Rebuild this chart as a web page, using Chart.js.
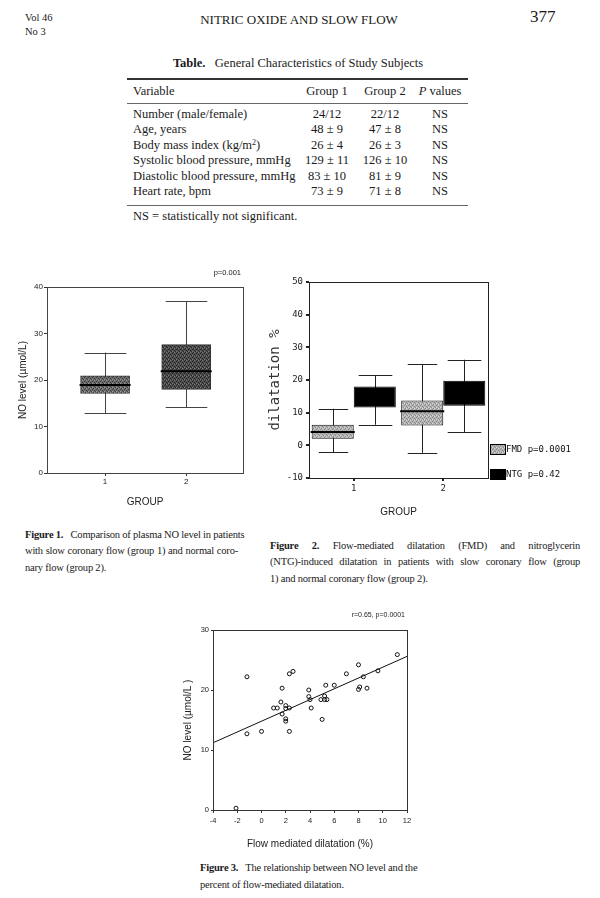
<!DOCTYPE html>
<html>
<head>
<meta charset="utf-8">
<script src="https://cdn.jsdelivr.net/npm/chart.js@4.4.0/dist/chart.umd.min.js"></script>
<style>
  body { margin: 0; width: 600px; height: 898px; position: relative; overflow: hidden; background: #fff;
         font-family: "Liberation Serif", "Times New Roman", serif; color: #1a1a1a; }
  .t { position: absolute; white-space: nowrap; line-height: 1; transform: translateY(-50%); }
  .c { transform: translate(-50%, -50%); }
  .rule { position: absolute; left: 127px; width: 341px; background: #333; }
  .cap { position: absolute; font-size: 10.5px; letter-spacing: -0.2px; line-height: 1; text-align: justify; text-align-last: justify; white-space: nowrap; }
  .cap.last { text-align-last: left; }
  canvas { position: absolute; }
  sup { font-size: 8px; vertical-align: 4px; }
</style>
</head>
<body>

<div class="t" style="left:25px;top:18px;font-size:10.5px">Vol 46</div>
<div class="t" style="left:25px;top:32px;font-size:10.5px">No 3</div>
<div class="t c" style="left:299px;top:19px;font-size:13px">NITRIC OXIDE AND SLOW FLOW</div>
<div class="t" style="left:530px;top:16px;font-size:17px">377</div>

<div class="t c" style="left:298px;top:63px;font-size:12.5px"><b>Table.</b>&nbsp;&nbsp; General Characteristics of Study Subjects</div>
<div class="rule" style="top:78px;height:2px"></div>
<div class="rule" style="top:103px;height:1px;background:#666"></div>
<div class="rule" style="top:205px;height:1px;background:#666"></div>
<div id="table"></div>
<div class="t" style="left:133px;top:216px;font-size:12.5px">NS = statistically not significant.</div>

<canvas id="fig1" width="260" height="250" style="left:0;top:265px"></canvas>
<canvas id="fig2" width="340" height="260" style="left:260px;top:265px"></canvas>
<canvas id="fig3" width="280" height="250" style="left:160px;top:605px"></canvas>

<div class="cap" style="left:25px;top:530px;width:213px"><b>Figure 1.</b>&nbsp;&nbsp; Comparison of plasma NO level in patients</div>
<div class="cap" style="left:25px;top:546px;width:213px">with slow coronary flow (group 1) and normal coro-</div>
<div class="cap last" style="left:25px;top:563px;width:213px">nary flow (group 2).</div>

<div class="cap" style="left:270px;top:541px;width:310px"><b>Figure 2.</b> Flow-mediated dilatation (FMD) and nitroglycerin</div>
<div class="cap" style="left:270px;top:557px;width:310px">(NTG)-induced dilatation in patients with slow coronary flow (group</div>
<div class="cap last" style="left:270px;top:574px;width:310px">1) and normal coronary flow (group 2).</div>

<div class="cap" style="left:200px;top:863px;width:214px"><b>Figure 3.</b>&nbsp;&nbsp; The relationship between NO level and the</div>
<div class="cap last" style="left:200px;top:880px;width:214px">percent of flow-mediated dilatation.</div>

<script>
// table
var tableVars = ["Number (male/female)", "Age, years", "Body mass index (kg/m<sup>2</sup>)",
  "Systolic blood pressure, mmHg", "Diastolic blood pressure, mmHg", "Heart rate, bpm"];
var tableG1 = ["24/12", "48 ± 9", "26 ± 4", "129 ± 11", "83 ± 10", "73 ± 9"];
var tableG2 = ["22/12", "47 ± 8", "26 ± 3", "126 ± 10", "81 ± 9", "71 ± 8"];
var tableP = ["NS", "NS", "NS", "NS", "NS", "NS"];

// figure 1: NO level by group
var noGroups = [1, 2];
var noLow = [12.9, 14.1];
var noQ1 = [17.1, 18.0];
var noMedian = [18.9, 21.9];
var noQ3 = [20.9, 27.6];
var noHigh = [25.9, 37.0];

// figure 2: FMD / NTG dilatation by group
var dilGroups = ["1", "2"];
var fmdLow = [-2.1, -2.3];
var fmdQ1 = [2.0, 6.1];
var fmdMedian = [4.1, 10.4];
var fmdQ3 = [6.3, 13.7];
var fmdHigh = [11.2, 24.9];
var ntgLow = [6.3, 4.0];
var ntgQ1 = [11.6, 12.1];
var ntgQ3 = [18.0, 19.8];
var ntgHigh = [21.4, 26.2];

// figure 3: NO level vs FMD
var fmdX = [-1.2, -1.2, -2.1, 0.0, 1.0, 1.3, 1.7, 1.6, 1.7, 2.0, 2.0, 2.0, 2.0, 2.3, 2.6, 2.3, 2.3,
  3.9, 3.9, 4.0, 4.1, 5.0, 4.9, 5.2, 5.2, 5.3, 5.4, 6.0, 7.0, 8.0, 8.1, 8.0, 8.4, 8.7, 9.6, 11.2];
var noY = [22.2, 12.7, 0.3, 13.1, 17.0, 17.0, 20.3, 18.0, 16.0, 17.4, 16.9, 15.2, 14.8, 22.7, 23.1, 17.0, 13.1,
  20.0, 18.9, 18.4, 17.0, 15.1, 18.4, 19.0, 18.4, 20.8, 18.4, 20.8, 22.7, 24.2, 20.5, 20.1, 22.2, 20.3, 23.2, 25.9];
var fitX = [-4, 12];
var fitY = [11.2, 25.6];

var tbl = document.getElementById("table");
function cell(html, x, y, center, size) {
  var d = document.createElement("div");
  d.className = center ? "t c" : "t";
  d.style.left = x + "px";
  d.style.top = y + "px";
  d.style.fontSize = (size || 12.5) + "px";
  d.innerHTML = html;
  tbl.appendChild(d);
}
cell("Variable", 133, 91);
cell("Group 1", 327, 91, true);
cell("Group 2", 385, 91, true);
cell("<i>P</i> values", 440, 91, true);
for (var i = 0; i < tableVars.length; i++) {
  var y = 114 + i * 15.4;
  cell(tableVars[i], 133, y);
  cell(tableG1[i], 327, y, true);
  cell(tableG2[i], 385, y, true);
  cell(tableP[i], 440, y, true);
}

Chart.defaults.font.family = "'Liberation Sans', Arial, sans-serif";
Chart.defaults.color = "#222";

function speckle(base, dark, light) {
  var c = document.createElement("canvas");
  c.width = c.height = 4;
  var g = c.getContext("2d");
  g.fillStyle = base; g.fillRect(0, 0, 4, 4);
  g.fillStyle = dark;
  g.fillRect(0, 0, 1, 1); g.fillRect(2, 1, 1, 1); g.fillRect(1, 3, 1, 1); g.fillRect(3, 2, 1, 1);
  g.fillStyle = light;
  g.fillRect(2, 3, 1, 1); g.fillRect(0, 2, 1, 1);
  return g.createPattern(c, "repeat");
}

// whiskers, caps and medians of the boxes, placed on the bar elements
var whiskers = {
  id: "whiskers",
  beforeDatasetsDraw: function (chart) { drawWhiskers(chart, false); },
  afterDatasetsDraw: function (chart) { drawWhiskers(chart, true); }
};
function drawWhiskers(chart, front) {
  var ctx = chart.ctx, ys = chart.scales.y;
  chart.data.datasets.forEach(function (ds, i) {
    if (!ds.lows) return;
    chart.getDatasetMeta(i).data.forEach(function (bar, j) {
      var x = Math.round(bar.x) + 0.5, w = bar.width;
      var lo = ys.getPixelForValue(ds.lows[j]), hi = ys.getPixelForValue(ds.highs[j]);
      ctx.save();
      ctx.strokeStyle = ds.whiskerColor;
      ctx.lineWidth = 1;
      ctx.beginPath();
      if (!front) {
        ctx.moveTo(x, lo); ctx.lineTo(x, hi);
      } else {
        var cw = w * ds.capRatio / 2;
        ctx.moveTo(x - cw, Math.round(lo) + 0.5); ctx.lineTo(x + cw, Math.round(lo) + 0.5);
        ctx.moveTo(x - cw, Math.round(hi) + 0.5); ctx.lineTo(x + cw, Math.round(hi) + 0.5);
      }
      ctx.stroke();
      if (front && ds.medians && ds.medians[j] != null) {
        var m = ys.getPixelForValue(ds.medians[j]);
        ctx.strokeStyle = "#000";
        ctx.lineWidth = 2;
        ctx.beginPath();
        ctx.moveTo(bar.x - w / 2 - 1, m); ctx.lineTo(bar.x + w / 2 + 1, m);
        ctx.stroke();
      }
      ctx.restore();
    });
  });
}

// frame round the plot area, and a small note above it
var frame = {
  id: "frame",
  afterDraw: function (chart, args, opts) {
    var a = chart.chartArea, ctx = chart.ctx;
    ctx.save();
    ctx.strokeStyle = opts.color || "#333";
    ctx.lineWidth = 1;
    ctx.strokeRect(Math.round(a.left) + 0.5, Math.round(a.top) + 0.5, Math.round(a.right - a.left), Math.round(a.bottom - a.top));
    if (opts.note) {
      ctx.fillStyle = "#222";
      ctx.font = opts.noteFont;
      ctx.textAlign = "right";
      ctx.textBaseline = "middle";
      ctx.fillText(opts.note, a.right + opts.noteDx, a.top + opts.noteDy);
    }
    ctx.restore();
  }
};

// legend swatches for figure 2
var boxLegend = {
  id: "boxLegend",
  afterDraw: function (chart, args, opts) {
    if (!opts.x) return;
    var ctx = chart.ctx;
    ctx.save();
    chart.data.datasets.forEach(function (ds, i) {
      var y = opts.y + i * opts.gap;
      ctx.fillStyle = ds.backgroundColor;
      ctx.fillRect(opts.x, y - 5, 15, 10);
      ctx.strokeStyle = "#000";
      ctx.strokeRect(opts.x + 0.5, y - 4.5, 15, 10);
      ctx.fillStyle = "#111";
      ctx.font = opts.font;
      ctx.textBaseline = "middle";
      ctx.fillText(ds.label, opts.x + 16, y + 0.5);
    });
    ctx.restore();
  }
};

function fixWidth(w) { return function (s) { s.width = w; }; }
function fixHeight(h) { return function (s) { s.height = h; }; }

new Chart("fig1", {
  type: "bar",
  data: {
    datasets: [{
      data: noGroups.map(function (g, k) { return { x: g, y: [noQ1[k], noQ3[k]] }; }),
      backgroundColor: [speckle("#6e6e6e", "#3a3a3a", "#9a9a9a"), speckle("#4e4e4e", "#262626", "#7a7a7a")],
      borderColor: "#333",
      borderWidth: 1,
      borderSkipped: false,
      barThickness: 49,
      lows: noLow, highs: noHigh, medians: noMedian,
      whiskerColor: "#444", capRatio: 0.85
    }]
  },
  plugins: [whiskers, frame],
  options: {
    responsive: false,
    animation: false,
    layout: { padding: { top: 22, right: 17, left: 0, bottom: 0 } },
    plugins: {
      legend: { display: false },
      tooltip: { enabled: false },
      frame: { color: "#444", note: "p=0.001", noteFont: "7.5px 'Liberation Sans', Arial", noteDx: -2, noteDy: -14 }
    },
    scales: {
      x: {
        type: "linear", min: 0.284, max: 2.70, offset: false,
        afterBuildTicks: function (s) { s.ticks = noGroups.map(function (g) { return { value: g }; }); },
        afterFit: fixHeight(42),
        grid: { display: true, drawOnChartArea: false, offset: false, tickLength: 3, color: "#333" },
        border: { display: false },
        ticks: { font: { size: 8 }, padding: 1, maxRotation: 0 },
        title: { display: true, text: "GROUP", font: { size: 10 }, padding: { top: 0, bottom: 7 } }
      },
      y: {
        min: 0, max: 40,
        afterFit: fixWidth(47),
        grid: { display: true, drawOnChartArea: false, tickLength: 3, color: "#333" },
        border: { display: false },
        ticks: { stepSize: 10, font: { size: 8 }, padding: 1 },
        title: { display: true, text: "NO level (µmol/L)", font: { size: 10 }, padding: { top: 17, bottom: 0 } }
      }
    }
  }
});

var mono = "'DejaVu Sans Mono', 'Liberation Mono', monospace";
new Chart("fig2", {
  type: "bar",
  data: {
    labels: dilGroups,
    datasets: [{
      label: "FMD p=0.0001",
      data: dilGroups.map(function (g, k) { return [fmdQ1[k], fmdQ3[k]]; }),
      backgroundColor: speckle("#b4b4b4", "#8a8a8a", "#d8d8d8"),
      borderColor: "#111", borderWidth: 1, borderSkipped: false,
      lows: fmdLow, highs: fmdHigh, medians: fmdMedian,
      whiskerColor: "#222", capRatio: 0.7
    }, {
      label: "NTG p=0.42",
      data: dilGroups.map(function (g, k) { return [ntgQ1[k], ntgQ3[k]]; }),
      backgroundColor: "#000",
      borderColor: "#000", borderWidth: 1, borderSkipped: false,
      lows: ntgLow, highs: ntgHigh,
      whiskerColor: "#222", capRatio: 0.8
    }]
  },
  plugins: [whiskers, frame, boxLegend],
  options: {
    responsive: false,
    animation: false,
    categoryPercentage: 0.94,
    barPercentage: 1.0,
    layout: { padding: { top: 17, right: 112, left: 0, bottom: 0 } },
    plugins: {
      legend: { display: false },
      tooltip: { enabled: false },
      frame: { color: "#222" },
      boxLegend: { x: 230, y: 184, gap: 25, font: "9px " + mono }
    },
    scales: {
      x: {
        afterFit: fixHeight(47),
        grid: { display: true, drawOnChartArea: false, offset: false, tickLength: 3, lineWidth: 2, color: "#222" },
        border: { display: false },
        ticks: { font: { size: 9, family: mono }, padding: 2 },
        title: { display: true, text: "GROUP", font: { size: 10 }, padding: { top: 0, bottom: 7 } }
      },
      y: {
        min: -10, max: 50,
        afterFit: fixWidth(49),
        grid: { display: true, drawOnChartArea: false, tickLength: 3, lineWidth: 2, color: "#222" },
        border: { display: false },
        ticks: { stepSize: 10, font: { size: 9, family: mono }, padding: 3 },
        title: { display: true, text: "dilatation %", font: { size: 14, family: mono }, color: "#333", padding: { top: 7, bottom: 0 } }
      }
    }
  }
});

new Chart("fig3", {
  type: "scatter",
  data: {
    datasets: [{
      data: fmdX.map(function (x, k) { return { x: x, y: noY[k] }; }),
      pointStyle: "circle", pointRadius: 2, borderColor: "#111", borderWidth: 1,
      backgroundColor: "rgba(255,255,255,0)"
    }, {
      type: "line",
      data: fitX.map(function (x, k) { return { x: x, y: fitY[k] }; }),
      borderColor: "#111", borderWidth: 1, pointRadius: 0, fill: false
    }]
  },
  plugins: [frame],
  options: {
    responsive: false,
    animation: false,
    layout: { padding: { top: 25, right: 33, left: 0, bottom: 0 } },
    plugins: {
      legend: { display: false },
      tooltip: { enabled: false },
      frame: { color: "#333", note: "r=0.65, p=0.0001", noteFont: "7px 'Liberation Sans', Arial", noteDx: -2, noteDy: -15 }
    },
    scales: {
      x: {
        min: -4, max: 12,
        afterFit: fixHeight(45),
        grid: { display: true, drawOnChartArea: false, tickLength: 3, color: "#333" },
        border: { display: false },
        ticks: { stepSize: 2, font: { size: 7.5 }, padding: 3, maxRotation: 0 },
        title: { display: true, text: "Flow mediated dilatation (%)", font: { size: 10 }, padding: { top: 0, bottom: 5 } }
      },
      y: {
        min: 0, max: 30,
        afterFit: fixWidth(53),
        grid: { display: true, drawOnChartArea: false, tickLength: 2, color: "#333" },
        border: { display: false },
        ticks: { stepSize: 10, font: { size: 7.5 }, padding: 2 },
        title: { display: true, text: "NO level (µmol/L )", font: { size: 10 }, padding: { top: 22, bottom: 0 } }
      }
    }
  }
});
</script>
</body>
</html>
